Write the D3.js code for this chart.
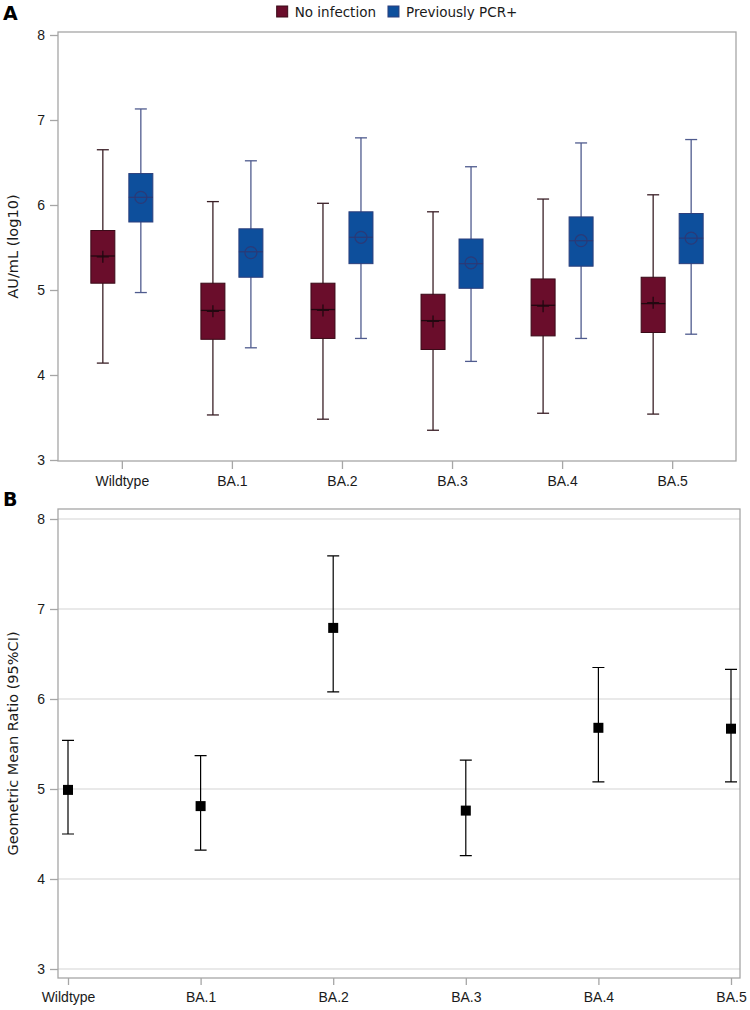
<!DOCTYPE html>
<html>
<head>
<meta charset="utf-8">
<script src="https://cdn.jsdelivr.net/npm/d3@7"></script>
<style>
  body { margin: 0; background: #fff; }
  svg { display: block; font-family: "DejaVu Sans", sans-serif; }
  .tick-label { font-size: 14px; fill: #1a1a1a; }
  .legend-label { font-size: 13.5px; fill: #1a1a1a; }
  .axis-title { font-size: 14.5px; fill: #1a1a1a; }
  .panel-letter { font-size: 19px; font-weight: bold; fill: #000; }
</style>
</head>
<body>
<div id="chart"></div>
<script>
// ---- data ----
const variants = ['Wildtype', 'BA.1', 'BA.2', 'BA.3', 'BA.4', 'BA.5'];
const groups = ['No infection', 'Previously PCR+'];

// panel A box plots, log10 AU/mL
const noInfMin    = [4.14, 3.53, 3.48, 3.35, 3.55, 3.54];
const noInfQ1     = [5.08, 4.42, 4.43, 4.30, 4.46, 4.50];
const noInfMedian = [5.40, 4.76, 4.77, 4.64, 4.82, 4.84];
const noInfQ3     = [5.70, 5.08, 5.08, 4.95, 5.13, 5.15];
const noInfMax    = [6.65, 6.04, 6.02, 5.92, 6.07, 6.12];
const noInfMean   = [5.39, 4.75, 4.76, 4.63, 4.81, 4.85];

const pcrMin    = [4.97, 4.32, 4.43, 4.16, 4.43, 4.48];
const pcrQ1     = [5.80, 5.15, 5.31, 5.02, 5.28, 5.31];
const pcrMedian = [6.09, 5.45, 5.62, 5.31, 5.58, 5.61];
const pcrQ3     = [6.37, 5.72, 5.92, 5.60, 5.86, 5.90];
const pcrMax    = [7.13, 6.52, 6.79, 6.45, 6.73, 6.77];
const pcrMean   = [6.09, 5.44, 5.62, 5.32, 5.58, 5.61];

// panel B geometric mean ratio with 95% CI
const gmr      = [4.99, 4.81, 6.79, 4.76, 5.68, 5.67];
const gmrLower = [4.50, 4.32, 6.08, 4.26, 5.08, 5.08];
const gmrUpper = [5.54, 5.37, 7.59, 5.32, 6.35, 6.33];

const yTicks = [3, 4, 5, 6, 7, 8];

// ---- look ----
const RED = { fill: '#6a0d2b', stroke: '#3a0a18', whisker: '#3a1f26', mark: '#220810' };
const BLUE = { fill: '#0d4f9c', stroke: '#2c3f7c', whisker: '#4f5b8e', mark: '#2a3a78' };
const FRAME = '#a6a6a6';

const W = 750, H = 1010;
const A = { left: 58, right: 736, top: 32, bottom: 461 };
const B = { left: 58, right: 740, top: 509, bottom: 978 };
const BOX_W = 24, BOX_OFF = 19, CAP_W = 12;

const svg = d3.select('#chart').append('svg')
  .attr('width', W).attr('height', H);

function frame(g, p) {
  g.append('rect')
    .attr('x', p.left).attr('y', p.top)
    .attr('width', p.right - p.left).attr('height', p.bottom - p.top)
    .attr('fill', 'none').attr('stroke', FRAME).attr('stroke-width', 1.3);
}

// y axis with gray ticks sitting outside the frame
function yAxis(g, y, p) {
  const ax = g.append('g').attr('transform', `translate(${p.left},0)`)
    .call(d3.axisLeft(y).tickValues(yTicks).tickSize(8).tickPadding(5).tickFormat(d3.format('d')));
  ax.select('.domain').remove();
  ax.selectAll('line').attr('stroke', FRAME).attr('stroke-width', 1.3);
  ax.selectAll('text').attr('class', 'tick-label').attr('font-family', null).attr('font-size', null);
}

function xAxis(g, x, p, size) {
  const ax = g.append('g').attr('transform', `translate(0,${p.bottom})`)
    .call(d3.axisBottom(x).tickSize(size).tickPadding(7));
  ax.select('.domain').remove();
  ax.selectAll('line').attr('stroke', FRAME).attr('stroke-width', 1.3);
  ax.selectAll('text').attr('class', 'tick-label').attr('font-family', null).attr('font-size', null);
}

// ================= panel A =================
const gA = svg.append('g');
const xA = d3.scalePoint().domain(variants).range([A.left, A.right]).padding(0.58);
const yA = d3.scaleLinear().domain([3, 8]).range([460, 35]);

frame(gA, A);
yAxis(gA, yA, A);
xAxis(gA, xA, A, 8);

const boxData = [];
variants.forEach((v, i) => {
  boxData.push({ v, off: -BOX_OFF, c: RED, kind: 'plus',
    min: noInfMin[i], q1: noInfQ1[i], med: noInfMedian[i], q3: noInfQ3[i], max: noInfMax[i], mean: noInfMean[i] });
  boxData.push({ v, off: BOX_OFF, c: BLUE, kind: 'circle',
    min: pcrMin[i], q1: pcrQ1[i], med: pcrMedian[i], q3: pcrQ3[i], max: pcrMax[i], mean: pcrMean[i] });
});

const boxes = gA.append('g').selectAll('g')
  .data(boxData)
  .enter()
  .append('g')
  .attr('transform', d => `translate(${xA(d.v) + d.off},0)`);

// whiskers + caps
boxes.append('line')
  .attr('y1', d => yA(d.max)).attr('y2', d => yA(d.min))
  .attr('stroke', d => d.c.whisker).attr('stroke-width', 1.3);
boxes.selectAll('.cap')
  .data(d => [{ c: d.c, y: d.max }, { c: d.c, y: d.min }])
  .enter().append('line')
  .attr('x1', -CAP_W / 2).attr('x2', CAP_W / 2)
  .attr('y1', d => yA(d.y)).attr('y2', d => yA(d.y))
  .attr('stroke', d => d.c.whisker).attr('stroke-width', 1.3);

boxes.append('rect')
  .attr('x', -BOX_W / 2).attr('width', BOX_W)
  .attr('y', d => yA(d.q3)).attr('height', d => yA(d.q1) - yA(d.q3))
  .attr('fill', d => d.c.fill).attr('stroke', d => d.c.stroke).attr('stroke-width', 1);

boxes.append('line')
  .attr('x1', -BOX_W / 2).attr('x2', BOX_W / 2)
  .attr('y1', d => yA(d.med)).attr('y2', d => yA(d.med))
  .attr('stroke', d => d.c.mark).attr('stroke-width', 1.3);

// mean markers: plus for no infection, open circle for PCR+
boxes.filter(d => d.kind === 'plus').append('path')
  .attr('d', d => `M-6,${yA(d.mean)}h12M0,${yA(d.mean) - 6}v12`)
  .attr('stroke', d => d.c.mark).attr('stroke-width', 1.3);
boxes.filter(d => d.kind === 'circle').append('circle')
  .attr('cy', d => yA(d.mean)).attr('r', 6)
  .attr('fill', 'none').attr('stroke', d => d.c.mark).attr('stroke-width', 1.2);

gA.append('text').attr('class', 'axis-title')
  .attr('transform', `translate(18,${(A.top + A.bottom) / 2}) rotate(-90)`)
  .attr('text-anchor', 'middle')
  .text('AU/mL (log10)');

gA.append('text').attr('class', 'panel-letter').attr('x', 3).attr('y', 20).text('A');

// legend, centred over the plot area
const legend = svg.append('g');
const items = legend.selectAll('g')
  .data(groups.map((g, i) => ({ g, c: i === 0 ? RED : BLUE })))
  .enter().append('g');
items.append('rect')
  .attr('width', 11).attr('height', 11).attr('y', 6)
  .attr('fill', d => d.c.fill).attr('stroke', d => d.c.stroke);
items.append('text').attr('class', 'legend-label')
  .attr('x', 18).attr('y', 16.5)
  .text(d => d.g);
let lx = 0;
items.each(function() {
  d3.select(this).attr('transform', `translate(${lx},0)`);
  lx += this.getBBox().width + 12;
});
lx -= 12;
legend.attr('transform', `translate(${(A.left + A.right) / 2 - lx / 2},0)`);

// ================= panel B =================
const gB = svg.append('g');
const xB = d3.scalePoint().domain(variants).range([68, 731]);
const yB = d3.scaleLinear().domain([3, 8]).range([969, 519]);

gB.append('g').selectAll('line')
  .data(yTicks)
  .enter().append('line')
  .attr('x1', B.left).attr('x2', B.right)
  .attr('y1', d => yB(d)).attr('y2', d => yB(d))
  .attr('stroke', '#e2e2e2').attr('stroke-width', 1.3);

frame(gB, B);
yAxis(gB, yB, B);
xAxis(gB, xB, B, 7);

const pts = gB.append('g').selectAll('g')
  .data(variants.map((v, i) => ({ v, m: gmr[i], lo: gmrLower[i], hi: gmrUpper[i] })))
  .enter().append('g')
  .attr('transform', d => `translate(${xB(d.v)},0)`);

pts.append('path')
  .attr('d', d => `M0,${yB(d.hi)}V${yB(d.lo)}M${-CAP_W / 2},${yB(d.hi)}h${CAP_W}M${-CAP_W / 2},${yB(d.lo)}h${CAP_W}`)
  .attr('stroke', '#000').attr('stroke-width', 1.2).attr('fill', 'none');
pts.append('rect')
  .attr('x', -5).attr('y', d => yB(d.m) - 5)
  .attr('width', 10).attr('height', 10)
  .attr('fill', '#000');

gB.append('text').attr('class', 'axis-title')
  .attr('transform', `translate(18,${(B.top + B.bottom) / 2}) rotate(-90)`)
  .attr('text-anchor', 'middle')
  .text('Geometric Mean Ratio (95%CI)');

gB.append('text').attr('class', 'panel-letter').attr('x', 3).attr('y', 506).text('B');
</script>
</body>
</html>
